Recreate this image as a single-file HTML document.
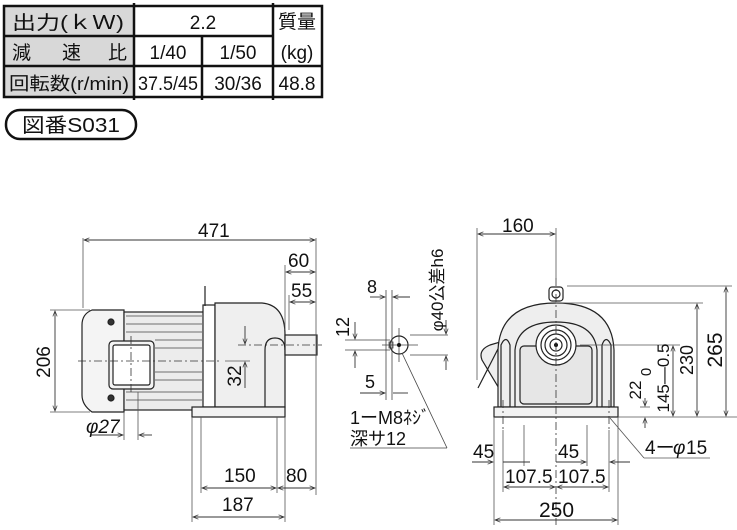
<!DOCTYPE html>
<html><head><meta charset="utf-8"><style>
body{margin:0;background:#fff;width:737px;height:530px;overflow:hidden}
svg{display:block}
text{font-family:"Liberation Sans","Noto Sans CJK JP",sans-serif;fill:#111}
</style></head><body>
<svg width="737" height="530" viewBox="0 0 737 530" xmlns="http://www.w3.org/2000/svg">
<defs>
<marker id="a" viewBox="0 0 10 10" refX="10" refY="5" markerWidth="8" markerHeight="6" orient="auto-start-reverse"><path d="M0,1 L10,5 L0,9" fill="none" stroke="#333" stroke-width="1.3"/></marker>
</defs>
<!-- table -->
<rect x="4" y="6" width="130" height="91" fill="#d8d8d8"/>
<g stroke="#111" stroke-width="2.5" fill="none">
<rect x="4" y="6" width="318" height="91"/>
<line x1="4" y1="36" x2="273" y2="36"/><line x1="4" y1="66" x2="322" y2="66"/>
<line x1="134" y1="3" x2="134" y2="100"/><line x1="273" y1="3" x2="273" y2="100"/>
<line x1="202" y1="36" x2="202" y2="100"/>
</g>
<g font-size="19">
<text x="12" y="29" textLength="112" lengthAdjust="spacingAndGlyphs">出力(ｋＷ)</text>
<text x="12" y="59">減</text><text x="62" y="59">速</text><text x="108" y="59">比</text>
<text x="9" y="90" font-size="18" textLength="120" lengthAdjust="spacingAndGlyphs">回転数(r/min)</text>
<text x="203" y="29" text-anchor="middle">2.2</text>
<text x="297" y="28" text-anchor="middle">質量</text>
<text x="297" y="59" text-anchor="middle">(kg)</text>
<text x="168" y="59" text-anchor="middle">1/40</text>
<text x="238" y="59" text-anchor="middle">1/50</text>
<text x="168" y="90" text-anchor="middle" textLength="60" lengthAdjust="spacingAndGlyphs">37.5/45</text>
<text x="238" y="90" text-anchor="middle">30/36</text>
<text x="297" y="90" text-anchor="middle">48.8</text>
</g>
<rect x="6" y="110" width="130" height="29" rx="14" fill="none" stroke="#111" stroke-width="2.5"/>
<text x="22" y="132" font-size="20" textLength="98" lengthAdjust="spacingAndGlyphs">図番S031</text>

<!-- left view -->
<g stroke="#222" stroke-width="1.2" fill="#fff">
<path d="M92,310 L124,310 L124,412 L92,412 Q82,405 82,395 L82,325 Q82,314 92,310Z" fill="#f4f4f4"/>
<rect x="124" y="312" width="80" height="98" fill="#ececec"/>
<rect x="109" y="341" width="45" height="48" rx="4" fill="#f4f4f4"/>
<rect x="113" y="345" width="37" height="40" rx="2"/>
<rect x="203" y="305" width="12" height="102"/>
<line x1="205" y1="286" x2="205" y2="306"/>
<path d="M215,303 L262,303 Q285,305 285,335 L285,407 L215,407Z" fill="#efefef"/>
<path d="M265,407 L265,350 Q265,338 275,338 Q285,338 285,350" fill="none"/>
<rect x="192" y="407" width="93" height="10" fill="#f2f2f2"/>
<rect x="285" y="335" width="32" height="20" fill="#f0f0f0"/>
<circle cx="111" cy="322" r="3" fill="#333"/><circle cx="111" cy="398" r="3" fill="#333"/>
</g>
<g stroke="#444" stroke-width="0.8">
<line x1="126" y1="316" x2="202" y2="316"/><line x1="126" y1="324" x2="202" y2="324"/><line x1="126" y1="332" x2="202" y2="332"/><line x1="155" y1="340" x2="202" y2="340"/><line x1="155" y1="348" x2="202" y2="348"/><line x1="155" y1="372" x2="202" y2="372"/><line x1="155" y1="380" x2="202" y2="380"/><line x1="126" y1="392" x2="202" y2="392"/><line x1="126" y1="400" x2="202" y2="400"/>
</g>
<g stroke="#333" stroke-width="0.8" stroke-dasharray="8,3,2,3" fill="none">
<line x1="78" y1="361" x2="222" y2="361"/><line x1="238" y1="345" x2="322" y2="345"/>
<line x1="131" y1="336" x2="131" y2="395"/>
</g>
<g stroke="#555" stroke-width="0.8" fill="none">
<line x1="83" y1="238" x2="83" y2="308"/><line x1="316" y1="238" x2="316" y2="495"/>
<line x1="285" y1="265" x2="285" y2="330"/><line x1="289" y1="295" x2="289" y2="330"/>
<line x1="50" y1="310" x2="90" y2="310"/><line x1="50" y1="412" x2="90" y2="412"/>
<line x1="124" y1="412" x2="124" y2="440"/><line x1="138" y1="392" x2="138" y2="440"/>
<line x1="192" y1="417" x2="192" y2="522"/><line x1="285" y1="417" x2="285" y2="522"/>
<line x1="201" y1="417" x2="201" y2="493"/><line x1="277" y1="417" x2="277" y2="493"/>
<line x1="225" y1="361" x2="250" y2="361"/>
</g>
<g stroke="#333" stroke-width="0.9" fill="none">
<line x1="84" y1="240" x2="315" y2="240" marker-start="url(#a)" marker-end="url(#a)"/>
<line x1="286" y1="272" x2="315" y2="272" marker-start="url(#a)" marker-end="url(#a)"/>
<line x1="290" y1="302" x2="315" y2="302" marker-start="url(#a)" marker-end="url(#a)"/>
<line x1="55" y1="311" x2="55" y2="411" marker-start="url(#a)" marker-end="url(#a)"/>
<line x1="245" y1="326" x2="245" y2="344" marker-end="url(#a)"/>
<line x1="245" y1="388" x2="245" y2="362" marker-end="url(#a)"/>
<line x1="90" y1="435" x2="123" y2="435" marker-end="url(#a)"/>
<line x1="152" y1="435" x2="139" y2="435" marker-end="url(#a)"/>
<line x1="202" y1="488" x2="276" y2="488" marker-start="url(#a)" marker-end="url(#a)"/>
<line x1="278" y1="488" x2="315" y2="488" marker-start="url(#a)" marker-end="url(#a)"/>
<line x1="193" y1="517" x2="284" y2="517" marker-start="url(#a)" marker-end="url(#a)"/>
</g>
<g font-size="19">
<text x="198" y="237">471</text>
<text x="288" y="267">60</text><text x="291" y="297">55</text>
<text transform="translate(50,362) rotate(-90)" text-anchor="middle">206</text>
<text transform="translate(241,376) rotate(-90)" text-anchor="middle">32</text>
<text x="86" y="433" font-style="italic">φ27</text>
<text x="224" y="482">150</text><text x="286" y="482">80</text><text x="222" y="511">187</text>
</g>

<!-- middle -->
<g stroke="#444" stroke-width="0.8" fill="none">
<circle cx="399" cy="345" r="9" stroke="#222" stroke-width="1.2"/>
<rect x="389" y="342" width="4" height="6"/>
<line x1="386" y1="290" x2="386" y2="400"/><line x1="392" y1="290" x2="392" y2="400"/>
<line x1="345" y1="340" x2="390" y2="340"/><line x1="345" y1="350" x2="390" y2="350"/>
<line x1="399" y1="328" x2="399" y2="362"/><line x1="382" y1="345" x2="418" y2="345"/>
<line x1="410" y1="335" x2="448" y2="335"/><line x1="410" y1="355" x2="448" y2="355"/>
<line x1="402" y1="353" x2="447" y2="448"/><line x1="350" y1="448" x2="447" y2="448"/>
</g>
<circle cx="399" cy="345" r="2" fill="#111"/>
<g stroke="#333" stroke-width="0.9" fill="none">
<line x1="370" y1="297" x2="385" y2="297" marker-end="url(#a)"/><line x1="410" y1="297" x2="393" y2="297" marker-end="url(#a)"/>
<line x1="355" y1="322" x2="355" y2="339" marker-end="url(#a)"/><line x1="355" y1="368" x2="355" y2="351" marker-end="url(#a)"/>
<line x1="360" y1="393" x2="385" y2="393" marker-end="url(#a)"/><line x1="408" y1="393" x2="393" y2="393"/>
<line x1="446" y1="320" x2="446" y2="334" marker-end="url(#a)"/><line x1="446" y1="370" x2="446" y2="356" marker-end="url(#a)"/>
</g>
<g font-size="18">
<text x="367" y="293">8</text>
<text transform="translate(349,327) rotate(-90)" text-anchor="middle">12</text>
<text x="365" y="388">5</text>
<text transform="translate(443,290) rotate(-90)" text-anchor="middle" font-size="17">φ40公差h6</text>
<text x="350" y="424">1ーM8ﾈｼﾞ</text>
<text x="350" y="445">深サ12</text>
</g>

<!-- right view -->
<g stroke="#222" stroke-width="1.2" fill="#fff">
<path d="M482,360 Q478,350 490,345 L500,342 L500,390 Z" fill="#eee"/>
<line x1="500" y1="345" x2="478" y2="388"/>
<rect x="549" y="287" width="14" height="14" rx="3"/>
<circle cx="556" cy="294" r="4"/>
<path d="M498,407 L498,350 Q500,303 556,303 Q612,303 614,350 L614,407Z" fill="#eee"/>
<path d="M515,407 L515,350 Q518,322 556,322 Q594,322 597,350 L597,407" fill="none"/>
<path d="M501,407 L501,345 Q506,334 510,345 L510,407" fill="none"/>
<path d="M602,407 L602,345 Q606,334 611,345 L611,407" fill="none"/>
<rect x="520" y="346" width="72" height="58" rx="4" fill="#e6e6e6"/>
<circle cx="556" cy="345" r="20"/><circle cx="556" cy="345" r="15"/><circle cx="556" cy="345" r="11"/><circle cx="556" cy="345" r="6"/>
<rect x="494" y="407" width="124" height="10" fill="#f2f2f2"/>
</g>
<circle cx="556" cy="345" r="2" fill="#111"/>
<g stroke="#333" stroke-width="0.8" stroke-dasharray="8,3,2,3" fill="none">
<line x1="556" y1="278" x2="556" y2="525"/><line x1="503" y1="400" x2="503" y2="430"/><line x1="609" y1="400" x2="609" y2="430"/>
</g>
<g stroke="#555" stroke-width="0.8" fill="none">
<line x1="477" y1="228" x2="477" y2="380"/><line x1="556" y1="228" x2="556" y2="280"/>
<line x1="567" y1="286" x2="732" y2="286"/><line x1="556" y1="303" x2="703" y2="303"/>
<line x1="580" y1="345" x2="680" y2="345"/><line x1="618" y1="417" x2="737" y2="417"/>
<line x1="494" y1="417" x2="494" y2="525"/><line x1="618" y1="417" x2="618" y2="525"/>
<line x1="503" y1="430" x2="503" y2="492"/><line x1="609" y1="430" x2="609" y2="492"/>
<line x1="524" y1="425" x2="524" y2="466"/><line x1="587" y1="425" x2="587" y2="466"/>
<line x1="610" y1="418" x2="644" y2="458"/><line x1="644" y1="458" x2="710" y2="458"/>
<line x1="640" y1="407" x2="650" y2="407"/>
</g>
<g stroke="#333" stroke-width="0.9" fill="none">
<line x1="478" y1="234" x2="555" y2="234" marker-start="url(#a)" marker-end="url(#a)"/>
<line x1="726" y1="287" x2="726" y2="416" marker-start="url(#a)" marker-end="url(#a)"/>
<line x1="697" y1="304" x2="697" y2="416" marker-start="url(#a)" marker-end="url(#a)"/>
<line x1="673" y1="346" x2="673" y2="416" marker-start="url(#a)" marker-end="url(#a)"/>
<line x1="645" y1="398" x2="645" y2="406" marker-end="url(#a)"/><line x1="645" y1="428" x2="645" y2="418" marker-end="url(#a)"/>
<line x1="472" y1="462" x2="493" y2="462" marker-end="url(#a)"/><line x1="503" y1="462" x2="530" y2="462"/>
<line x1="556" y1="462" x2="586" y2="462" marker-end="url(#a)"/><line x1="630" y1="462" x2="610" y2="462" marker-end="url(#a)"/>
<line x1="504" y1="487" x2="555" y2="487" marker-start="url(#a)" marker-end="url(#a)"/>
<line x1="557" y1="487" x2="608" y2="487" marker-start="url(#a)" marker-end="url(#a)"/>
<line x1="495" y1="520" x2="617" y2="520" marker-start="url(#a)" marker-end="url(#a)"/>
</g>
<g font-size="19">
<text x="502" y="232">160</text>
<text transform="translate(722,350) rotate(-90)" text-anchor="middle" font-size="21">265</text>
<text transform="translate(693,360) rotate(-90)" text-anchor="middle" font-size="18">230</text>
<text transform="translate(669,378) rotate(-90)" text-anchor="middle" font-size="17">145—0.5</text>
<text transform="translate(651,372) rotate(-90)" text-anchor="middle" font-size="15">0</text>
<text transform="translate(641,390) rotate(-90)" text-anchor="middle" font-size="17">22</text>
<text x="473" y="458">45</text><text x="558" y="458">45</text>
<text x="505" y="483">107.5</text><text x="558" y="483">107.5</text>
<text x="539" y="517" font-size="21">250</text>
<text x="645" y="454">4ー</text><text x="673" y="454" font-style="italic">φ</text><text x="686" y="454">15</text>
</g>
</svg>
</body></html>
